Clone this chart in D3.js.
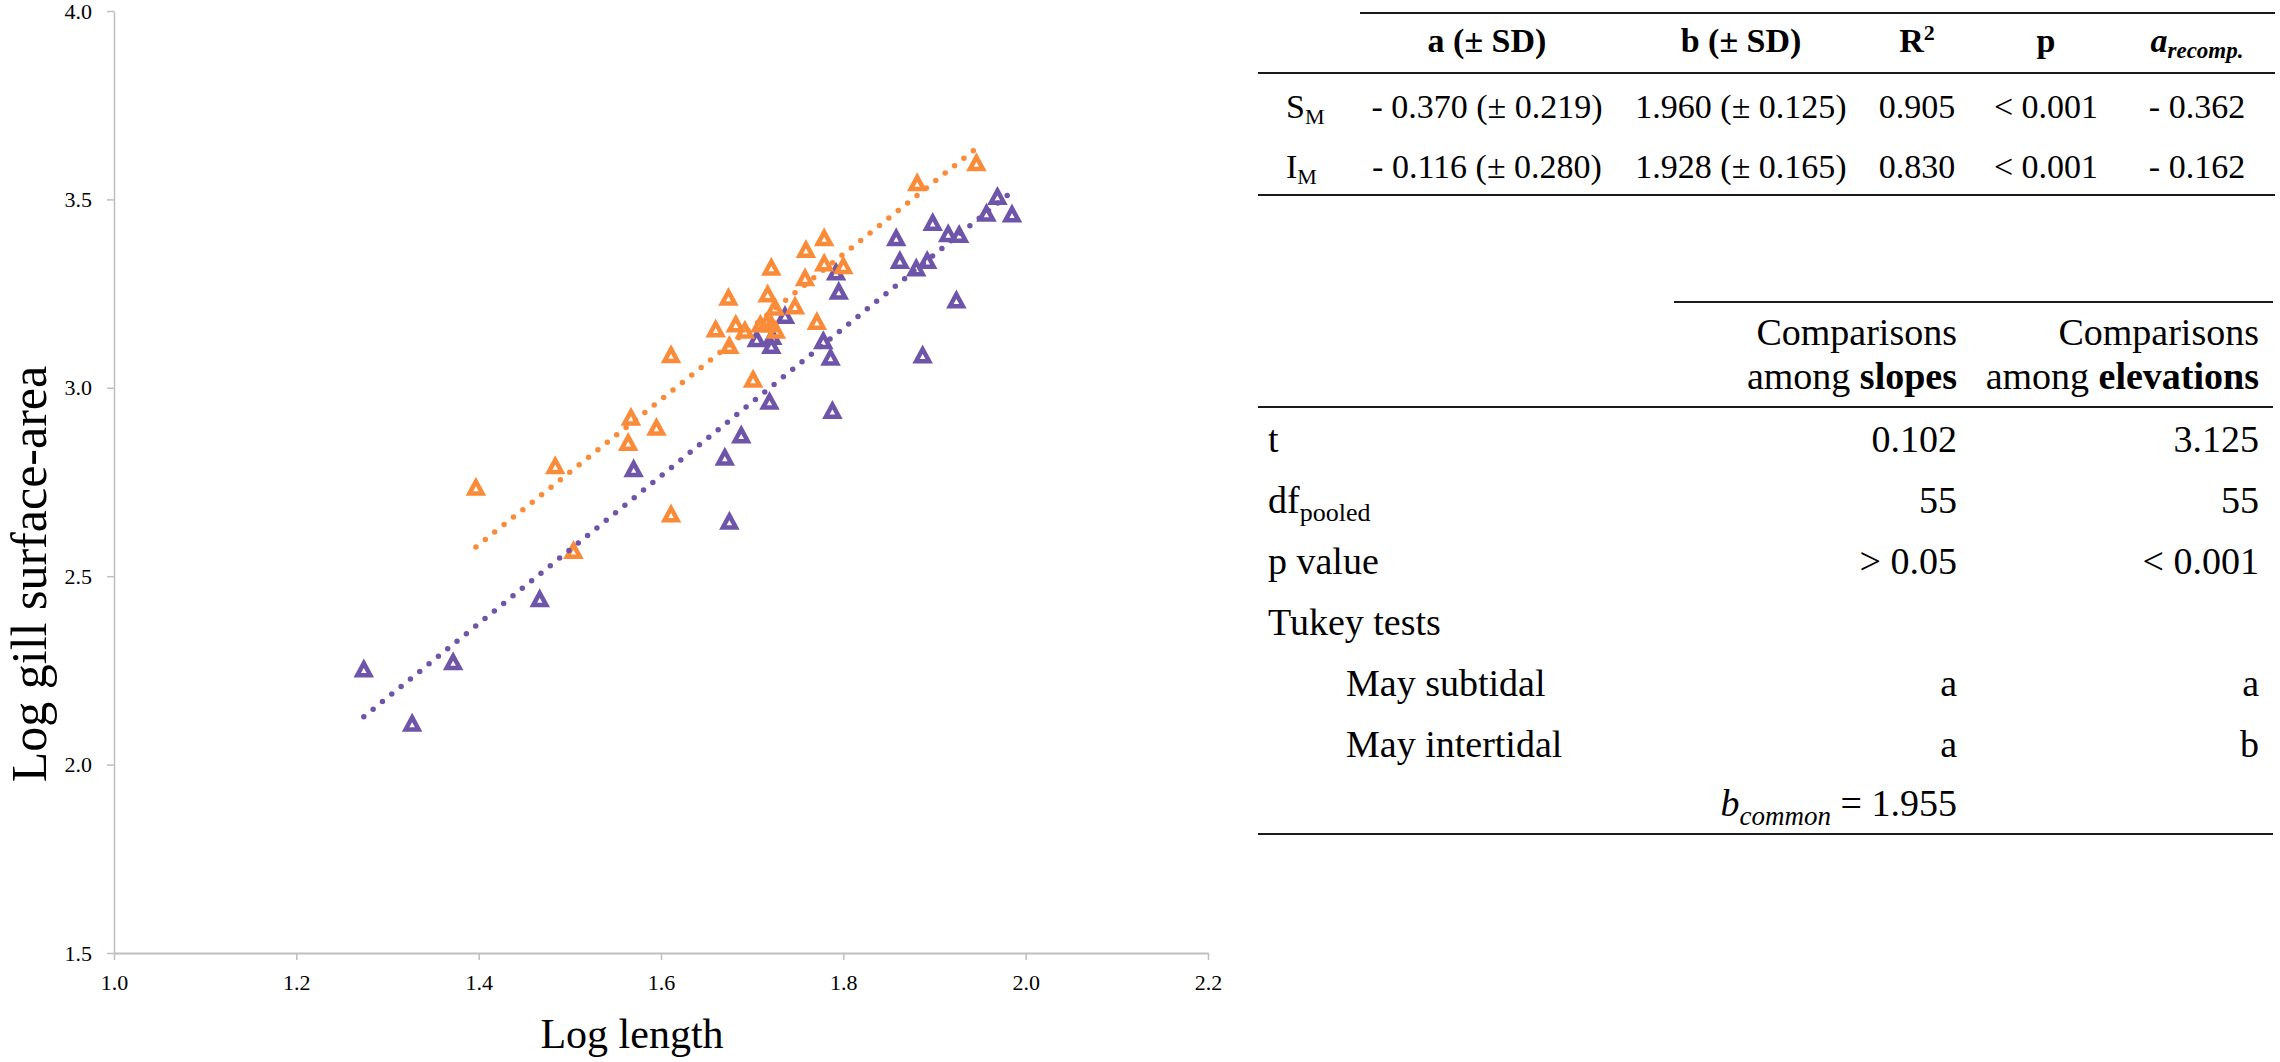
<!DOCTYPE html>
<html>
<head>
<meta charset="utf-8">
<script src="https://cdn.jsdelivr.net/npm/d3@7"></script>
<style>
    body { margin: 0; background: #fff; }
    svg { display: block; }
    svg text { font-family: "Liberation Serif", "Times New Roman", serif; fill: #000; }
    .axis path, .axis line { stroke: #bfbfbf; }
    .rule { stroke: #1a1a1a; stroke-width: 2; }
</style>
</head>
<body>
<div class="panel"></div>
<script>

// Data ////////////////////////////////////

// May subtidal (S_M), purple: [log length, log gill surface-area]
const subtidal = [
    [1.274, 2.256], [1.327, 2.112], [1.372, 2.275], [1.467, 2.442], [1.570, 2.787],
    [1.670, 2.818], [1.675, 2.648], [1.688, 2.877], [1.719, 2.966], [1.788, 2.942],
    [1.786, 3.083], [1.778, 3.127], [1.705, 3.132], [1.721, 3.114], [1.722, 3.138],
    [1.736, 3.194], [1.795, 3.258], [1.792, 3.309], [1.858, 3.400], [1.862, 3.340],
    [1.880, 3.320], [1.892, 3.340], [1.898, 3.441], [1.915, 3.411], [1.927, 3.409],
    [1.924, 3.235], [1.887, 3.089], [1.957, 3.465], [1.969, 3.510], [1.985, 3.463]
];

// May intertidal (I_M), orange
const intertidal = [
    [1.397, 2.738], [1.484, 2.795], [1.504, 2.570], [1.567, 2.924], [1.564, 2.857],
    [1.595, 2.897], [1.611, 2.667], [1.611, 3.090], [1.701, 3.025], [1.675, 3.114],
    [1.660, 3.158], [1.682, 3.171], [1.692, 3.155], [1.709, 3.171], [1.716, 3.176],
    [1.721, 3.171], [1.726, 3.155], [1.725, 3.216], [1.674, 3.242], [1.717, 3.251],
    [1.747, 3.219], [1.721, 3.322], [1.771, 3.178], [1.758, 3.294], [1.759, 3.369],
    [1.779, 3.400], [1.779, 3.333], [1.800, 3.326], [1.881, 3.546], [1.946, 3.599]
];

const xTicks = [1.0, 1.2, 1.4, 1.6, 1.8, 2.0, 2.2];
const yTicks = [1.5, 2.0, 2.5, 3.0, 3.5, 4.0];

// Regression table
const fitLabels = ["S", "I"];
const fitA = [-0.370, -0.116];
const fitASD = [0.219, 0.280];
const fitB = [1.960, 1.928];
const fitBSD = [0.125, 0.165];
const fitR2 = [0.905, 0.830];
const fitP = ["< 0.001", "< 0.001"];
const fitARecomp = [-0.362, -0.162];

// Comparison table
const compLabels = ["t", "df", "p value", "Tukey tests", "May subtidal", "May intertidal"];
const compSlopes = ["0.102", "55", "> 0.05", "", "a", "a"];
const compElevations = ["3.125", "55", "< 0.001", "", "a", "b"];
const bCommon = 1.955;

// Chart ////////////////////////////////////

const width = 2280;
const height = 1062;
const purple = "#6f55a9";
const orange = "#fa8b38";

const svg = d3.select(".panel").append("svg")
    .attr("width", width)
    .attr("height", height)
    .attr("viewBox", [0, 0, width, height])
    .attr("font-family", "Liberation Serif, serif");

const x = d3.scaleLinear().domain([1.0, 2.2]).range([114, 1208]);
const y = d3.scaleLinear().domain([1.5, 4.0]).range([953, 11]);
const f1 = d3.format(".1f");
const f3 = d3.format(".3f");

// Axes

svg.append("g")
    .attr("class", "axis")
    .attr("transform", `translate(0,${ y(1.5) })`)
    .call(d3.axisBottom(x).tickValues(xTicks).tickFormat(f1).tickSize(7).tickPadding(14).tickSizeOuter(0))
    .call(g => g.attr("font-family", null))
    .call(g => g.select(".domain").attr("stroke-width", 2))
    .call(g => g.selectAll("line").attr("stroke-width", 1.5))
    .call(g => g.selectAll("text").attr("font-size", 22));

svg.append("g")
    .attr("class", "axis")
    .attr("transform", `translate(${ x(1.0) },0)`)
    .call(d3.axisLeft(y).tickValues(yTicks).tickFormat(f1).tickSize(7).tickPadding(15).tickSizeOuter(0))
    .call(g => g.attr("font-family", null))
    .call(g => g.select(".domain").attr("stroke-width", 1.5))
    .call(g => g.selectAll("line").attr("stroke-width", 1.5))
    .call(g => g.selectAll("text").attr("font-size", 22));

svg.append("text")
    .attr("x", 632)
    .attr("y", 1048)
    .attr("text-anchor", "middle")
    .attr("font-size", 42)
    .text("Log length");

svg.append("text")
    .attr("transform", "translate(46,574) rotate(-90)")
    .attr("text-anchor", "middle")
    .attr("font-size", 50)
    .text("Log gill surface-area");

// Points

const triangle = "M0,-5L6.5,7L-6.5,7Z";

drawSeries(subtidal, purple);
drawSeries(intertidal, orange);

// Trend lines from the fitted a and b

drawTrend(subtidal, fitA[0], fitB[0], purple);
drawTrend(intertidal, fitA[1], fitB[1], orange);

function drawSeries(data, color) {

    svg.append("g")
        .selectAll("path")
        .data(data)
        .join("path")
        .attr("transform", d => `translate(${ x(d[0]) },${ y(d[1]) })`)
        .attr("d", triangle)
        .attr("fill", "none")
        .attr("stroke", color)
        .attr("stroke-width", 4.5)
        .attr("stroke-linejoin", "miter");
}

function drawTrend(data, a, b, color) {

    const [x0, x1] = d3.extent(data, d => d[0]);
    const line = d3.line().x(d => x(d)).y(d => y(a + b * d));

    svg.append("path")
        .attr("d", line([x0, x1]))
        .attr("fill", "none")
        .attr("stroke", color)
        .attr("stroke-width", 5.5)
        .attr("stroke-linecap", "round")
        .attr("stroke-dasharray", "0 12");
}

// Table 1: regressions ////////////////////////////////////

const neg = v => v < 0 ? "- " + f3(-v) : f3(v);

const t1 = svg.append("g").attr("font-size", 34);

t1.append("line").attr("class", "rule").attr("x1", 1360).attr("x2", 2275).attr("y1", 13).attr("y2", 13);
t1.append("line").attr("class", "rule").attr("x1", 1258).attr("x2", 2275).attr("y1", 73).attr("y2", 73);
t1.append("line").attr("class", "rule").attr("x1", 1258).attr("x2", 2275).attr("y1", 195).attr("y2", 195);

const colX = [1487, 1741, 1917, 2046, 2197];
const head = t1.append("g").attr("font-weight", "bold").attr("text-anchor", "middle");

head.append("text").attr("x", colX[0]).attr("y", 52).text("a (± SD)");
head.append("text").attr("x", colX[1]).attr("y", 52).text("b (± SD)");
const r2 = head.append("text").attr("x", colX[2]).attr("y", 52);
r2.append("tspan").text("R");
r2.append("tspan").attr("font-size", 22).attr("dy", -12).text("2");
head.append("text").attr("x", colX[3]).attr("y", 52).text("p");
const ar = head.append("text").attr("x", colX[4]).attr("y", 52).attr("font-style", "italic");
ar.append("tspan").text("a");
ar.append("tspan").attr("font-size", 23).attr("dy", 6).text("recomp.");

const rowY = [118, 178];

fitLabels.forEach((lab, i) => {

    const yy = rowY[i];
    const t = t1.append("text").attr("x", 1286).attr("y", yy);
    t.append("tspan").text(lab);
    t.append("tspan").attr("font-size", 22).attr("dy", 6).text("M");

    const cells = [
        `${ neg(fitA[i]) } (± ${ f3(fitASD[i]) })`,
        `${ f3(fitB[i]) } (± ${ f3(fitBSD[i]) })`,
        f3(fitR2[i]),
        fitP[i],
        neg(fitARecomp[i])
    ];

    t1.append("g")
        .attr("text-anchor", "middle")
        .selectAll("text")
        .data(cells)
        .join("text")
        .attr("x", (d, j) => colX[j])
        .attr("y", yy)
        .text(d => d);
});

// Table 2: comparisons ////////////////////////////////////

const t2 = svg.append("g").attr("font-size", 38);

t2.append("line").attr("class", "rule").attr("x1", 1674).attr("x2", 2273).attr("y1", 302).attr("y2", 302);
t2.append("line").attr("class", "rule").attr("x1", 1258).attr("x2", 2273).attr("y1", 407).attr("y2", 407);
t2.append("line").attr("class", "rule").attr("x1", 1258).attr("x2", 2273).attr("y1", 834).attr("y2", 834);

const colR = [1957, 2259];

[["slopes", colR[0]], ["elevations", colR[1]]].forEach(([word, cx]) => {

    t2.append("text").attr("x", cx).attr("y", 345).attr("text-anchor", "end").text("Comparisons");
    const t = t2.append("text").attr("x", cx).attr("y", 389).attr("text-anchor", "end");
    t.append("tspan").text("among ");
    t.append("tspan").attr("font-weight", "bold").text(word);
});

const compY = [452, 513, 574, 635, 696, 757];

compLabels.forEach((lab, i) => {

    const t = t2.append("text")
        .attr("x", i >= 4 ? 1346 : 1268)
        .attr("y", compY[i]);
    t.append("tspan").text(lab);
    if (lab === "df") {
        t.append("tspan").attr("font-size", 26).attr("dy", 8).text("pooled");
    }

    t2.append("text").attr("x", colR[0]).attr("y", compY[i]).attr("text-anchor", "end").text(compSlopes[i]);
    t2.append("text").attr("x", colR[1]).attr("y", compY[i]).attr("text-anchor", "end").text(compElevations[i]);
});

const bc = t2.append("text").attr("x", colR[0]).attr("y", 816).attr("text-anchor", "end");
bc.append("tspan").attr("font-style", "italic").text("b");
bc.append("tspan").attr("font-style", "italic").attr("font-size", 27).attr("dy", 9).text("common");
bc.append("tspan").attr("dy", -9).text(" = " + f3(bCommon));

</script>
</body>
</html>
